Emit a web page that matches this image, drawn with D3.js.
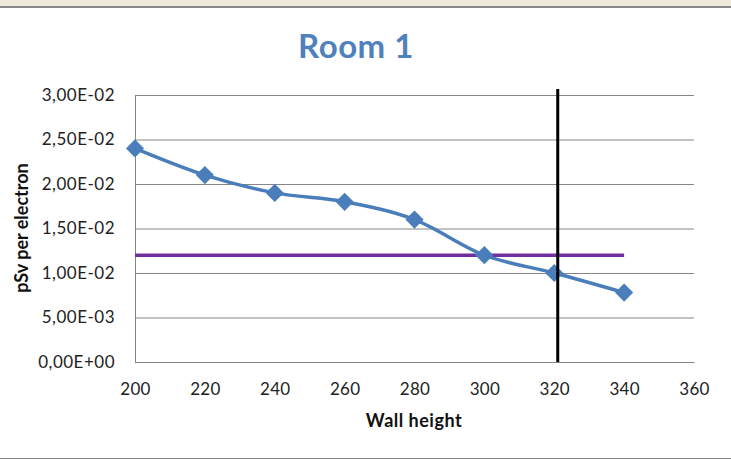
<!DOCTYPE html>
<html>
<head>
<meta charset="utf-8">
<script src="https://cdn.jsdelivr.net/npm/d3@7"></script>
<style>
  body { margin: 0; background: #fff; }
  svg { display: block; }
  text { font-family: Lato, "Open Sans", sans-serif; }
</style>
</head>
<body>
<div id="chart"></div>
<script>
'use strict'

// data
const wallHeight = [200, 220, 240, 260, 280, 300, 320, 340]
const dose = [2.40e-2, 2.10e-2, 1.90e-2, 1.80e-2, 1.60e-2, 1.20e-2, 1.00e-2, 0.78e-2]
const limitLine = { value: 1.2e-2, from: 200, to: 340 }
const markerX = 321
const xTicks = [200, 220, 240, 260, 280, 300, 320, 340, 360]
const yTicks = [0, 0.005, 0.01, 0.015, 0.02, 0.025, 0.03]

const svgWidth = 731, svgHeight = 460
const margin = { left: 135, right: 37, top: 95, bottom: 98 }
const width = svgWidth - margin.left - margin.right
const height = svgHeight - margin.top - margin.bottom

const root = d3.select('#chart').append('svg')
    .attr('width', svgWidth)
    .attr('height', svgHeight)

// window frame bits
root.append('rect').attr('x', 0).attr('y', 0).attr('width', svgWidth).attr('height', 6).attr('fill', '#eeeade')
root.append('rect').attr('x', 0).attr('y', 6).attr('width', svgWidth).attr('height', 2).attr('fill', '#888')
root.append('rect').attr('x', 0).attr('y', 458).attr('width', svgWidth).attr('height', 1).attr('fill', '#888')

const svg = root.append('g')
    .attr('transform', 'translate(' + margin.left + ',' + margin.top + ')')

const x = d3.scaleLinear().domain([200, 360]).range([0, width])
const y = d3.scaleLinear().domain([0, 0.03]).range([height, 0])

// y format like Excel "0,00E+00"
const sci = v => {
    if (v === 0) return '0,00E+00'
    const e = Math.floor(Math.log10(v))
    const m = v / Math.pow(10, e)
    const es = (e < 0 ? '-' : '+') + String(Math.abs(e)).padStart(2, '0')
    return m.toFixed(2).replace('.', ',') + 'E' + es
}

// gridlines
svg.append('g')
    .call(d3.axisLeft(y).tickValues(yTicks).tickSize(-width).tickFormat(''))
    .call(g => g.select('.domain').remove())
    .call(g => g.selectAll('line').attr('stroke', '#868686').attr('stroke-width', 1))

// axes
const yAxis = svg.append('g')
    .call(d3.axisLeft(y).tickValues(yTicks).tickSize(0).tickPadding(20).tickFormat(sci))
yAxis.select('.domain').attr('stroke', '#868686')
yAxis.selectAll('text')
    .attr('font-size', 17).attr('letter-spacing', 0.5)
    .attr('fill', '#222').attr('font-family', 'Lato, sans-serif')

const xAxis = svg.append('g')
    .attr('transform', 'translate(0,' + height + ')')
    .call(d3.axisBottom(x).tickValues(xTicks).tickSize(0).tickPadding(21).tickFormat(d3.format('d')))
xAxis.select('.domain').attr('stroke', '#868686')
xAxis.selectAll('text')
    .attr('font-size', 17).attr('letter-spacing', 0.3)
    .attr('fill', '#222').attr('font-family', 'Lato, sans-serif')

// purple threshold
svg.append('line')
    .attr('x1', x(limitLine.from)).attr('x2', x(limitLine.to))
    .attr('y1', y(limitLine.value)).attr('y2', y(limitLine.value))
    .attr('stroke', '#7030a0').attr('stroke-width', 3.5)

// data series
const pts = wallHeight.map((h, i) => [h, dose[i]])
const line = d3.line()
    .x(d => x(d[0])).y(d => y(d[1]))
    .curve(d3.curveCardinal.tension(0))

svg.append('path')
    .datum(pts)
    .attr('fill', 'none')
    .attr('stroke', '#4a7ebb')
    .attr('stroke-width', 3.5)
    .attr('d', line)

svg.append('g').selectAll('path')
    .data(pts)
    .join('path')
    .attr('d', d3.symbol(d3.symbolSquare, 165))
    .attr('transform', d => 'translate(' + x(d[0]) + ',' + y(d[1]) + ') rotate(45)')
    .attr('fill', '#4a7ebb')

// black vertical marker
svg.append('line')
    .attr('x1', x(markerX)).attr('x2', x(markerX))
    .attr('y1', -6).attr('y2', height)
    .attr('stroke', '#000').attr('stroke-width', 3)

// titles
root.append('text')
    .attr('x', 356).attr('y', 58)
    .attr('text-anchor', 'middle')
    .attr('font-size', 33).attr('font-weight', 'bold').attr('letter-spacing', 0.5)
    .attr('fill', '#4f81bd')
    .text('Room 1')

root.append('text')
    .attr('x', 414).attr('y', 427)
    .attr('text-anchor', 'middle')
    .attr('font-size', 18).attr('font-weight', 'bold').attr('letter-spacing', 0.5)
    .attr('fill', '#111')
    .text('Wall height')

root.append('text')
    .attr('transform', 'translate(28,228) rotate(-90)')
    .attr('text-anchor', 'middle')
    .attr('font-size', 18).attr('font-weight', 'bold')
    .attr('fill', '#111')
    .text('pSv per electron')
</script>
</body>
</html>
